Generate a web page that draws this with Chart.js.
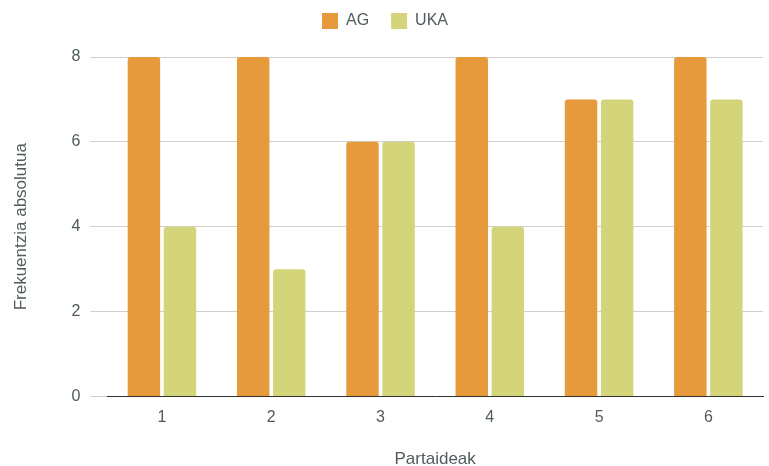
<!DOCTYPE html>
<html>
<head>
<meta charset="utf-8">
<script src="https://cdn.jsdelivr.net/npm/chart.js@4"></script>
<style>
  html, body { margin: 0; padding: 0; background: #fff; }
  #wrap { width: 769px; height: 466px; }
</style>
</head>
<body>
<div id="wrap"><canvas id="grafikoa" width="769" height="466"></canvas></div>
<script>
const partaideak = ["1", "2", "3", "4", "5", "6"];
const agBalioak = [8, 8, 6, 8, 7, 8];
const ukaBalioak = [4, 3, 6, 4, 7, 7];

const testuKolorea = "#4f5b5d";
const letra = "Liberation Sans";

// Legendaren azpian tarte gehiago
const legendaTartea = {
    id: "legendaTartea",
    beforeInit(chart) {
        const jatorrizkoa = chart.legend.fit;
        chart.legend.fit = function () {
            jatorrizkoa.bind(this)();
            this.height += 18;
        };
    }
};

new Chart(document.getElementById("grafikoa"), {
    type: "bar",
    data: {
        labels: partaideak,
        datasets: [
            {label: "AG", data: agBalioak, backgroundColor: "#e69a3c", borderRadius: 3, borderSkipped: "bottom", categoryPercentage: 0.66, barPercentage: 0.9},
            {label: "UKA", data: ukaBalioak, backgroundColor: "#d4d57a", borderRadius: 3, borderSkipped: "bottom", categoryPercentage: 0.66, barPercentage: 0.9}
        ]
    },
    options: {
        responsive: false,
        animation: false,
        layout: {padding: {left: 7, right: 6, top: -9, bottom: -4}},
        plugins: {
            legend: {
                position: "top",
                labels: {
                    color: testuKolorea,
                    font: {family: letra, size: 16},
                    boxWidth: 16,
                    boxHeight: 16,
                    padding: 22
                }
            },
            tooltip: {enabled: false}
        },
        scales: {
            x: {
                grid: {display: false},
                border: {color: "#333", width: 1},
                ticks: {color: testuKolorea, font: {family: letra, size: 16}, padding: 4},
                title: {display: true, text: "Partaideak", color: testuKolorea, font: {family: letra, size: 17}, padding: {top: 18, bottom: 0}}
            },
            y: {
                min: 0,
                max: 8,
                ticks: {stepSize: 2, color: testuKolorea, font: {family: letra, size: 16}, padding: 10},
                grid: {color: "#cfcfcf", tickLength: 17},
                border: {display: false},
                title: {display: true, text: "Frekuentzia absolutua", color: testuKolorea, font: {family: letra, size: 17}, padding: {bottom: 30}}
            }
        }
    },
    plugins: [legendaTartea]
});
</script>
</body>
</html>
